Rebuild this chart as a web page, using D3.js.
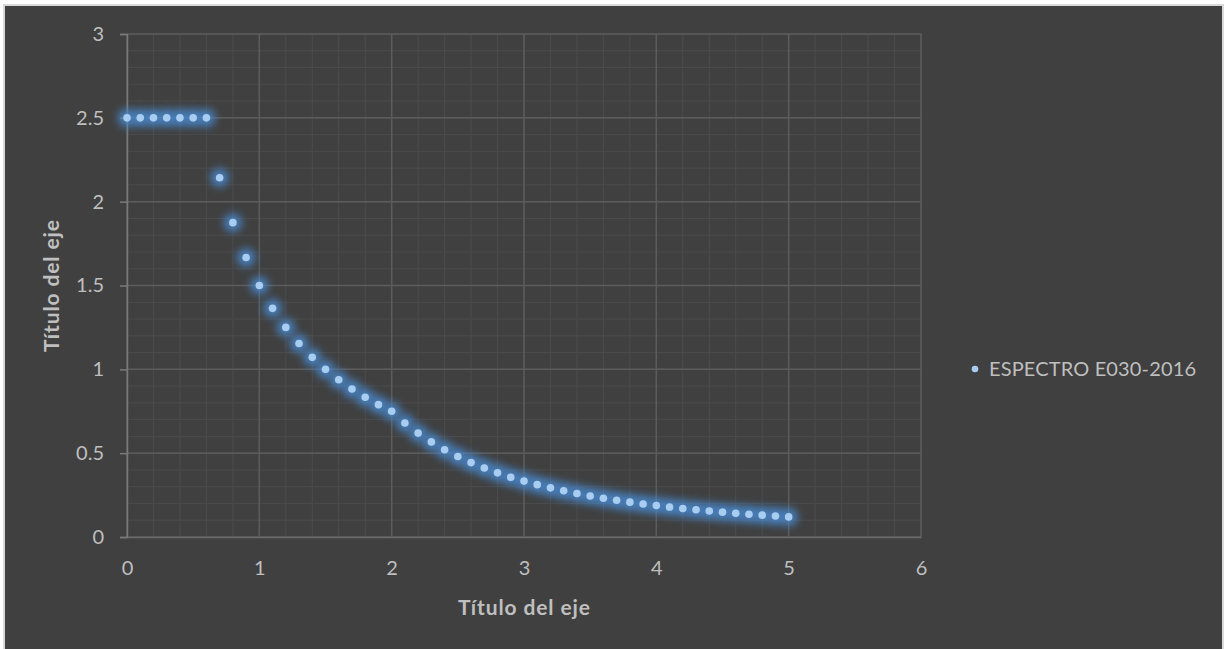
<!DOCTYPE html>
<html><head><meta charset="utf-8">
<script src="https://cdn.jsdelivr.net/npm/d3@7"></script>
<style>
html,body{margin:0;padding:0;background:#ffffff;}
svg{display:block;}
</style></head>
<body>
<svg id="chart" width="1227" height="649"></svg>
<script>
const periods = [0,0.1,0.2,0.3,0.4,0.5,0.6,0.7,0.8,0.9,1.0,1.1,1.2,1.3,1.4,1.5,1.6,1.7,1.8,1.9,2.0,
  2.1,2.2,2.3,2.4,2.5,2.6,2.7,2.8,2.9,3.0,3.1,3.2,3.3,3.4,3.5,3.6,3.7,3.8,3.9,4.0,
  4.1,4.2,4.3,4.4,4.5,4.6,4.7,4.8,4.9,5.0];
const spectrum = [2.5,2.5,2.5,2.5,2.5,2.5,2.5,2.1429,1.875,1.6667,1.5,1.3636,1.25,1.1538,1.0714,1.0,0.9375,0.8824,0.8333,0.7895,0.75,
  0.6803,0.6198,0.5671,0.5208,0.48,0.4438,0.4115,0.3827,0.3567,0.3333,0.3122,0.2930,0.2755,0.2595,0.2449,0.2315,0.2191,0.2078,0.1972,0.1875,
  0.1785,0.1701,0.1622,0.1550,0.1481,0.1418,0.1358,0.1302,0.1249,0.12];
const xTicks = [0,1,2,3,4,5,6];
const yTicks = [0,0.5,1,1.5,2,2.5,3];
const seriesName = "ESPECTRO E030-2016";
const axisTitleX = "Título del eje";
const axisTitleY = "Título del eje";

const svg = d3.select("#chart");
const font = "Lato, 'Open Sans', sans-serif";
const txt = "#bfbfbf";

svg.append("rect").attr("x",4).attr("y",5).attr("width",1219).attr("height",648)
  .attr("fill","#404040").attr("stroke","#d9d9d9").attr("stroke-width",2);

const x = d3.scaleLinear().domain([0,6]).range([127,921]);
const y = d3.scaleLinear().domain([0,3]).range([537,34]);

const defs = svg.append("defs");
const f = defs.append("filter").attr("id","glow").attr("x","-150%").attr("y","-150%").attr("width","400%").attr("height","400%");
f.append("feGaussianBlur").attr("stdDeviation",4.2);

const g = svg.append("g");
const xMinor = d3.range(0,6.001,0.2).map(v=>+v.toFixed(1));
const yMinor = d3.range(0,3.001,0.1).map(v=>+v.toFixed(1));
g.selectAll(".xm").data(xMinor).join("line")
  .attr("x1",d=>x(d)).attr("x2",d=>x(d)).attr("y1",y(3)).attr("y2",y(0))
  .attr("stroke","#4c4c4c").attr("stroke-width",1);
g.selectAll(".ym").data(yMinor).join("line")
  .attr("x1",x(0)).attr("x2",x(6)).attr("y1",d=>y(d)).attr("y2",d=>y(d))
  .attr("stroke","#4c4c4c").attr("stroke-width",1);
g.selectAll(".xM").data(xTicks).join("line")
  .attr("x1",d=>x(d)).attr("x2",d=>x(d)).attr("y1",y(3)).attr("y2",y(0))
  .attr("stroke","#5c5c5c").attr("stroke-width",1.5);
g.selectAll(".yM").data(yTicks).join("line")
  .attr("x1",x(0)).attr("x2",x(6)).attr("y1",d=>y(d)).attr("y2",d=>y(d))
  .attr("stroke","#5c5c5c").attr("stroke-width",1.5);

const yAxis = svg.append("g").attr("transform",`translate(${x(0)},0)`)
  .call(d3.axisLeft(y).tickValues(yTicks).tickSize(7).tickPadding(16).tickFormat(d3.format("")));
yAxis.select(".domain").attr("stroke","#7a7a7a").attr("stroke-width",1.5);
yAxis.selectAll(".tick line").attr("stroke","#7a7a7a").attr("stroke-width",1.5);
yAxis.selectAll("text").attr("fill",txt).attr("font-size",20).attr("font-family",font);

const xAxis = svg.append("g").attr("transform",`translate(0,${y(0)})`)
  .call(d3.axisBottom(x).tickValues(xTicks).tickSize(0).tickPadding(24).tickFormat(d3.format("")));
xAxis.select(".domain").attr("stroke","#6a6a6a").attr("stroke-width",1.5);
xAxis.selectAll("text").attr("fill",txt).attr("font-size",20).attr("font-family",font);

svg.append("text").attr("x",524).attr("y",615).attr("text-anchor","middle")
  .attr("fill",txt).attr("font-size",21).attr("font-weight","bold").attr("font-family",font)
  .attr("textLength",132).attr("lengthAdjust","spacing").text(axisTitleX);
svg.append("text").attr("transform","translate(59,286) rotate(-90)").attr("text-anchor","middle")
  .attr("fill",txt).attr("font-size",21).attr("font-weight","bold").attr("font-family",font)
  .attr("textLength",132).attr("lengthAdjust","spacing").text(axisTitleY);

const data = periods.map((p,i)=>({p, v: spectrum[i]}));
const pts = svg.append("g");
pts.selectAll(".glow").data(data).join("circle")
  .attr("cx",d=>x(d.p)).attr("cy",d=>y(d.v)).attr("r",9)
  .attr("fill","#4a8ad0").attr("opacity",0.9).attr("filter","url(#glow)");
pts.selectAll(".dot").data(data).join("circle")
  .attr("cx",d=>x(d.p)).attr("cy",d=>y(d.v)).attr("r",3.8)
  .attr("fill","#a9cdf0");

svg.append("circle").attr("cx",975).attr("cy",369).attr("r",3.3).attr("fill","#a9cdf0");
svg.append("text").attr("x",989).attr("y",376).attr("fill",txt).attr("font-size",20)
  .attr("font-family",font).attr("textLength",207).attr("lengthAdjust","spacing").text(seriesName);
</script>
</body></html>
